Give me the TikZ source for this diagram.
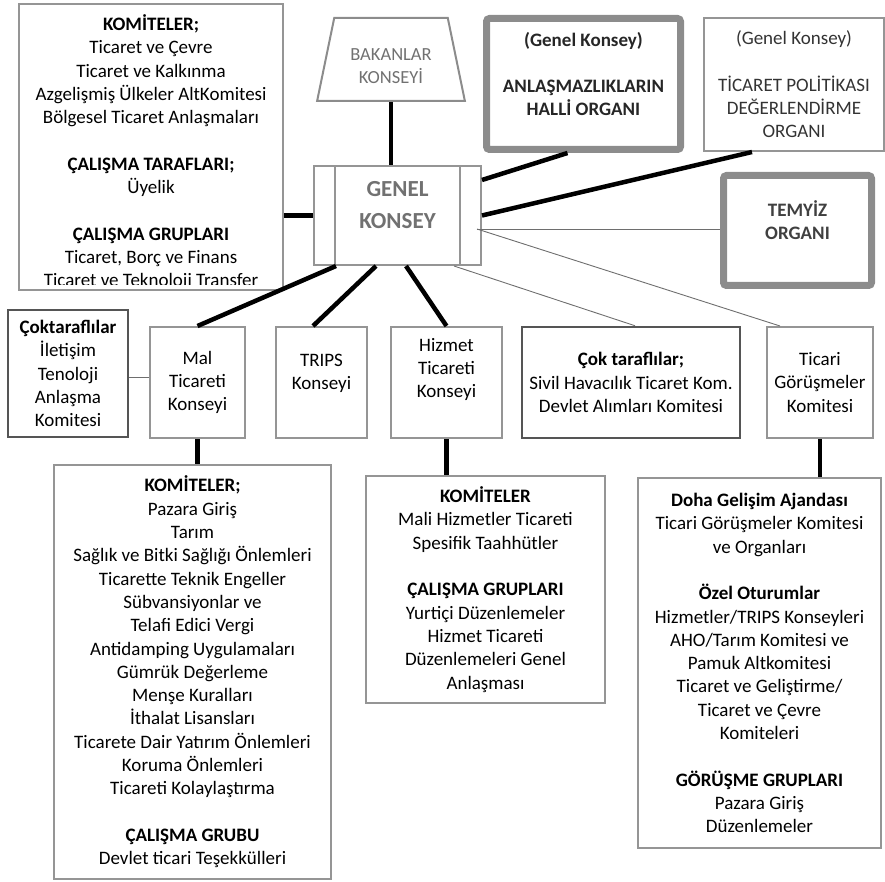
\documentclass[tikz,border=0pt]{standalone}
\usepackage{fontspec}
\setmainfont{Carlito}
\usetikzlibrary{shapes.geometric}

\definecolor{framegray}{HTML}{959595}
\definecolor{framedark}{HTML}{555555}
\definecolor{organgray}{HTML}{8C8C8C}
\definecolor{titlegray}{HTML}{717171}
\definecolor{linkgray}{HTML}{6E6E6E}

\begin{document}
\begin{tikzpicture}[x=1pt,y=-1pt]
\tikzstyle{every node}=[font=\fontsize{19}{23.3}\selectfont, align=center, inner sep=0pt]
\tikzstyle{box}=[draw=framegray, line width=2pt]
\tikzstyle{dark box}=[draw=framedark, line width=2.5pt]
\tikzstyle{organ}=[draw=organgray, line width=7pt, rounded corners=3pt, font=\fontsize{19}{23.3}\selectfont\bfseries]
\tikzstyle{thick link}=[line width=4.5pt]
\tikzstyle{thin link}=[linkgray, line width=0.9pt]

\useasboundingbox (0,0) rectangle (885,882);

% ust sira
\node[box, minimum width=264pt, minimum height=286pt] (komite) at (151,147) {};
\begin{scope}
  \clip (komite.north west) rectangle ([yshift=6pt]komite.south east);
  \node (komite-t) at (151,152.5) {\textbf{KOMİTELER;}\\Ticaret ve Çevre\\Ticaret ve Kalkınma\\Azgelişmiş Ülkeler AltKomitesi\\Bölgesel Ticaret Anlaşmaları\\[23.3pt]\textbf{ÇALIŞMA TARAFLARI;}\\Üyelik\\[23.3pt]\textbf{ÇALIŞMA GRUPLARI}\\Ticaret, Borç ve Finans\\Ticaret ve Teknoloji Transfer};
\end{scope}

\node[trapezium, draw=organgray, line width=2pt, trapezium angle=76, trapezium stretches=true,
  minimum width=148pt, minimum height=83pt, text=titlegray, font=\fontsize{18.5}{23}\selectfont] (bakan) at (391,59.5) {\rule{0pt}{26pt}BAKANLAR\\KONSEYİ};

\node[box, minimum width=167pt, minimum height=99pt, text=titlegray, font=\fontsize{23}{32}\selectfont\bfseries,
  path picture={\draw[framegray, line width=2pt]
    ([xshift=21pt]path picture bounding box.north west) -- ([xshift=21pt]path picture bounding box.south west)
    ([xshift=-21pt]path picture bounding box.north east) -- ([xshift=-21pt]path picture bounding box.south east);}]
  (genel) at (397.5,215.5) {GENEL\\KONSEY\rule[-22pt]{0pt}{0pt}};

\node[organ, minimum width=194pt, minimum height=131pt, text=black!85] (anlas) at (583.5,84) {(Genel Konsey)\\[23.3pt]ANLAŞMAZLIKLARIN\\HALLİ ORGANI\rule[-20pt]{0pt}{0pt}};
\node[box, minimum width=180pt, minimum height=133pt, text=black!80] (ticpol) at (794,84.5) {(Genel Konsey)\\[23.3pt]TİCARET POLİTİKASI\\DEĞERLENDİRME\\ORGANI};
\node[organ, minimum width=148pt, minimum height=110pt, text=black!75] (temyiz) at (797.5,230.5) {TEMYİZ\\ORGANI\rule[-21pt]{0pt}{0pt}};

% orta sira
\node[dark box, minimum width=120pt, minimum height=127pt] (coklu) at (68,373.5) {\textbf{Çoktaraflılar}\\İletişim\\Tenoloji\\Anlaşma\\Komitesi};
\node[box, minimum width=95pt, minimum height=111pt] (mal) at (197.5,382.5) {Mal\\Ticareti\\Konseyi};
\node[box, minimum width=91pt, minimum height=111pt] (trips) at (321.5,382.5) {TRIPS\\Konseyi\rule[-22pt]{0pt}{0pt}};
\node[box, minimum width=111pt, minimum height=111pt] (hizmet) at (446.5,382.5) {Hizmet\\Ticareti\\Konseyi\rule[-29pt]{0pt}{0pt}};
\node[dark box, minimum width=218pt, minimum height=111pt] (coktaraf) at (631,382.5) {\textbf{Çok taraflılar;}\\Sivil Havacılık Ticaret Kom.\\Devlet Alımları Komitesi};
\node[box, minimum width=106pt, minimum height=111pt] (ticari) at (820,382.5) {Ticari\\Görüşmeler\\Komitesi};

% alt sira
\node[box, minimum width=277pt, minimum height=414pt] (malkom) at (192.5,672) {\textbf{KOMİTELER;}\\Pazara Giriş\\Tarım\\Sağlık ve Bitki Sağlığı Önlemleri\\Ticarette Teknik Engeller\\Sübvansiyonlar ve\\Telafi Edici Vergi\\Antidamping Uygulamaları\\Gümrük Değerleme\\Menşe Kuralları\\İthalat Lisansları\\Ticarete Dair Yatırım Önlemleri\\Koruma Önlemleri\\Ticareti Kolaylaştırma\\[23.3pt]\textbf{ÇALIŞMA GRUBU}\\Devlet ticari Teşekkülleri};
\node[box, minimum width=239pt, minimum height=227pt] (hizkom) at (485.5,589.5) {\textbf{KOMİTELER}\\Mali Hizmetler Ticareti\\Spesifik Taahhütler\\[23.3pt]\textbf{ÇALIŞMA GRUPLARI}\\Yurtiçi Düzenlemeler\\Hizmet Ticareti\\Düzenlemeleri Genel\\Anlaşması};
\node[box, minimum width=243pt, minimum height=370pt] (tickom) at (759.5,663) {\textbf{Doha Gelişim Ajandası}\\Ticari Görüşmeler Komitesi\\ve Organları\\[23.3pt]\textbf{Özel Oturumlar}\\Hizmetler/TRIPS Konseyleri\\AHO/Tarım Komitesi ve\\Pamuk Altkomitesi\\Ticaret ve Geliştirme/\\Ticaret ve Çevre\\Komiteleri\\[23.3pt]\textbf{GÖRÜŞME GRUPLARI}\\Pazara Giriş\\Düzenlemeler};

% baglantilar
\begin{scope}[thick link]
\draw (komite.east |- genel.west) -- (genel.west);
\draw (bakan.south) -- (bakan.south |- genel.north);
\draw ([yshift=-15pt]genel.north east) -- ([xshift=-16pt]anlas.south);
\draw (genel.east) -- ([xshift=-42pt]ticpol.south);
\draw ([xshift=23pt]genel.south west) -- (mal.north);
\draw ([xshift=-21.5pt]genel.south) -- ([xshift=-8.5pt]trips.north);
\draw ([xshift=8.5pt]genel.south) -- (hizmet.north);
\draw (mal.south) -- (mal.south |- malkom.north);
\draw (hizmet.south) -- (hizmet.south |- hizkom.north);
\draw (ticari.south) -- (ticari.south |- tickom.north);
\end{scope}

\coordinate (gk-r) at ([xshift=-5pt,yshift=-13.5pt]genel.east);
\begin{scope}[thin link]
\draw (gk-r) -- (gk-r -| temyiz.west);
\draw (gk-r) -- ([xshift=-40pt]ticari.north);
\draw ([xshift=-28pt]genel.south east) -- ([xshift=4pt]coktaraf.north);
\draw ([yshift=-3.5pt]coklu.east) -- ([yshift=-3.5pt]coklu.east -| mal.west);
\end{scope}

\end{tikzpicture}
\end{document}
